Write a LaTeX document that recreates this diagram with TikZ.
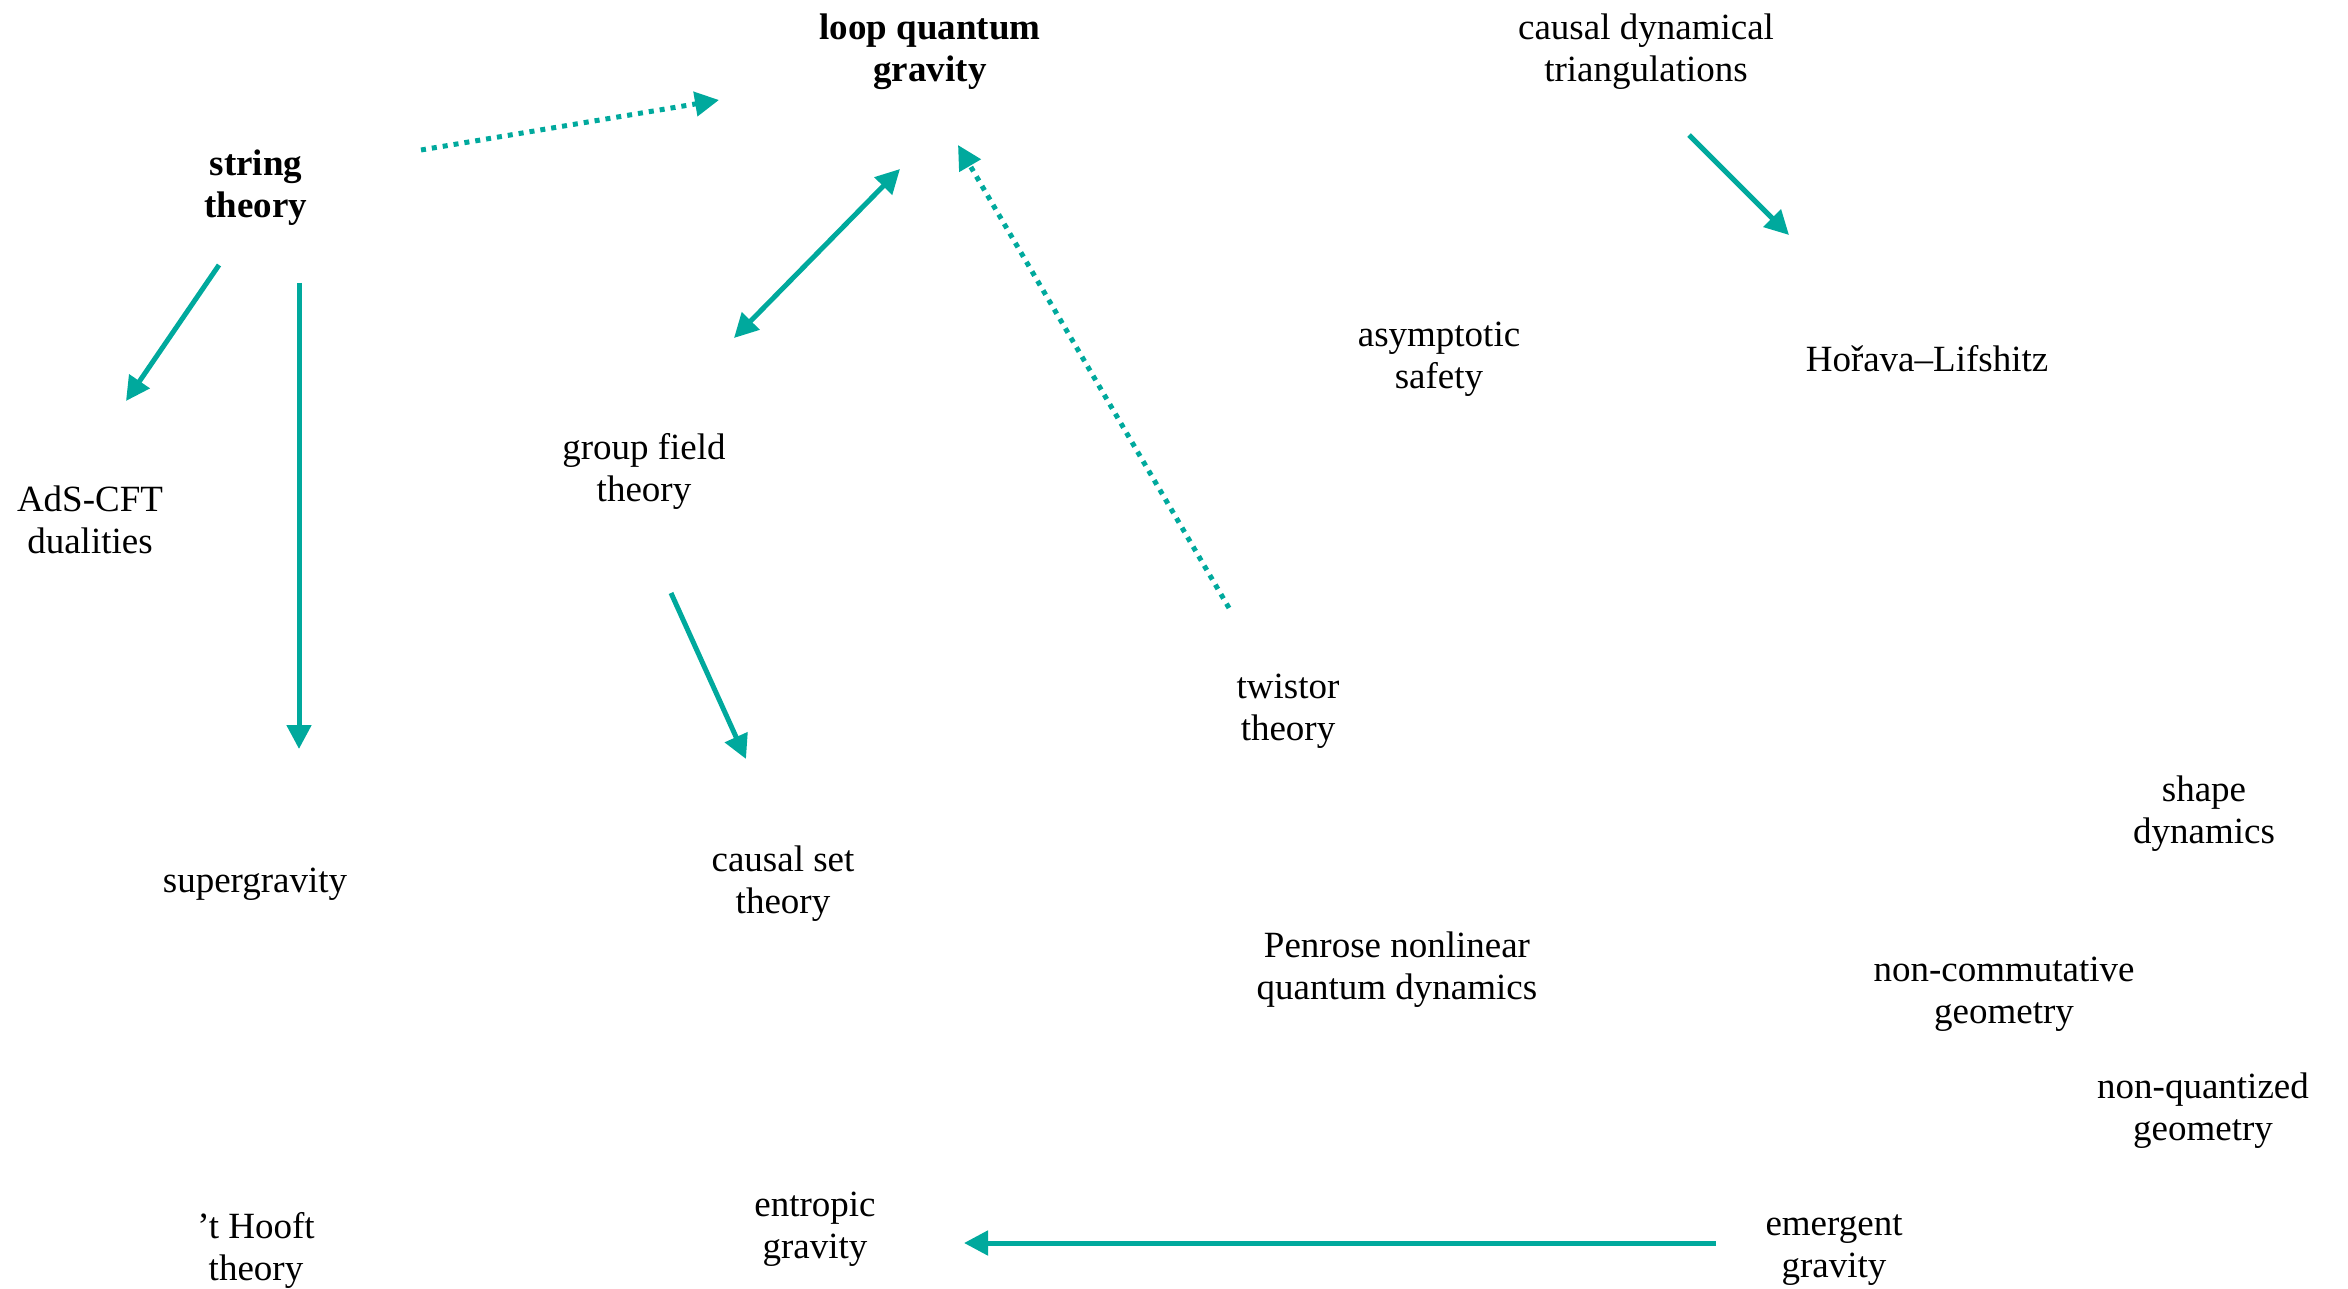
\documentclass[tikz,border=0pt]{standalone}
\usepackage{fontspec}
\setmainfont{Liberation Serif}
\usetikzlibrary{arrows.meta}
\definecolor{teal}{HTML}{00A99D}
\begin{document}
\begin{tikzpicture}[x=1pt,y=-1pt,
  lbl/.style={align=center,inner sep=0pt,font=\fontsize{37}{42}\selectfont},
  bold/.style={lbl,font=\fontsize{37}{42}\selectfont\bfseries},
  arr/.style={draw=teal,line width=5pt,-{Triangle[length=24pt,width=24pt]}},
  darr/.style={arr,{Triangle[length=24pt,width=24pt]}-{Triangle[length=24pt,width=24pt]}},
  dotarr/.style={arr,dash pattern=on 5pt off 6pt}]
\useasboundingbox (0,0) rectangle (2348,1289);

% approaches to quantum gravity
\node[bold] (lqg) at (930,52) {loop quantum\\gravity};
\node[bold] (st) at (256,188) {string\\theory};
\node[lbl] (cdt) at (1646,52) {causal dynamical\\triangulations};
\node[lbl] (as) at (1439,359) {asymptotic\\safety};
\node[lbl] (hl) at (1927,359) {Hořava–Lifshitz};
\node[lbl] (gft) at (644,471) {group field\\theory};
\node[lbl] (ads) at (90,520) {AdS-CFT\\dualities};
\node[lbl] (tw) at (1288,711) {twistor\\theory};
\node[lbl] (sd) at (2204,814) {shape\\dynamics};
\node[lbl] (sg) at (255,884) {supergravity};
\node[lbl] (cst) at (783,884) {causal set\\theory};
\node[lbl] (pen) at (1397,970) {Penrose nonlinear\\quantum dynamics};
\node[lbl] (ncg) at (2004,994) {non-commutative\\geometry};
\node[lbl] (nqg) at (2203,1111) {non-quantized\\geometry};
\node[lbl] (th) at (256,1250) {’t Hooft\\theory};
\node[lbl] (eg) at (815,1229) {entropic\\gravity};
\node[lbl] (em) at (1834,1250) {emergent\\gravity};

% relations
\draw[dotarr] ([shift={(165,-38)}]st.center) -- ([shift={(-211,48)}]lqg.center);
\draw[darr] ([shift={(90,-133)}]gft.center) -- ([shift={(-30,117)}]lqg.center);
\draw[dotarr] ([shift={(-59,-103)}]tw.center) -- ([shift={(28,93)}]lqg.center);
\draw[arr] ([shift={(-37,77)}]st.center) -- ([shift={(36,-119)}]ads.center);
\draw[arr] ([shift={(43,95)}]st.center) -- ([shift={(44,-135)}]sg.center);
\draw[arr] ([shift={(27,122)}]gft.center) -- ([shift={(-37,-125)}]cst.center);
\draw[arr] ([shift={(43,83)}]cdt.center) -- ([shift={(-138,-124)}]hl.center);
\draw[arr] ([shift={(-118,-7)}]em.center) -- ([shift={(149,14)}]eg.center);
\end{tikzpicture}
\end{document}
